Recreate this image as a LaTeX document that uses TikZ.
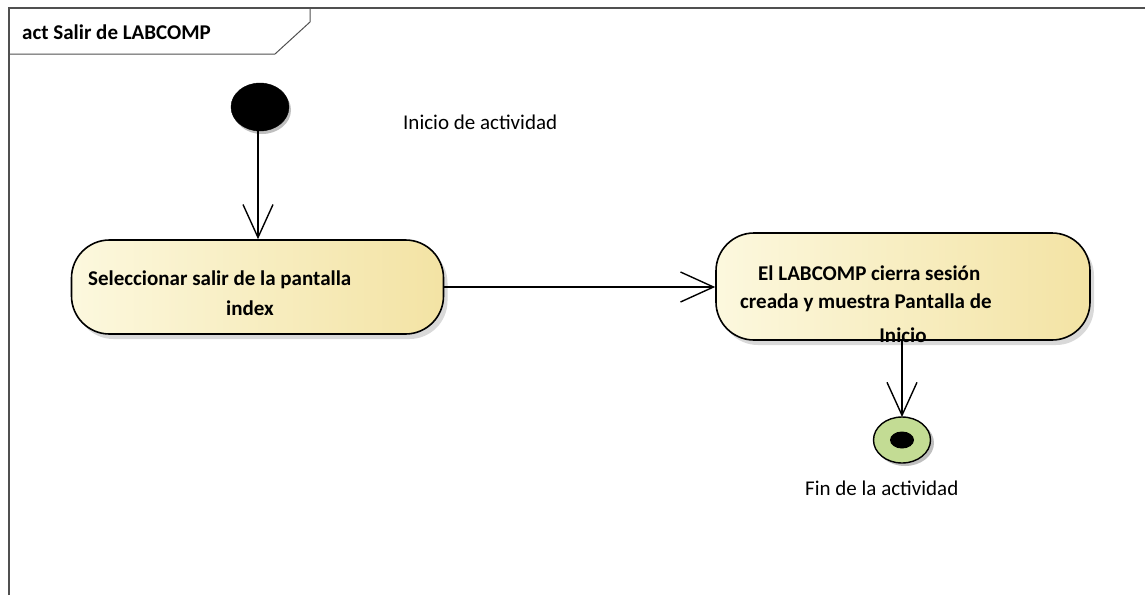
\documentclass[tikz,border=0pt]{standalone}
\usepackage{fontspec}
\setmainfont{Carlito}
\usetikzlibrary{arrows.meta,shadows,shapes.geometric}
\definecolor{actL}{HTML}{FCF8DE}
\definecolor{actR}{HTML}{F3E3A4}
\definecolor{finG}{HTML}{C3DC94}
\definecolor{frameC}{HTML}{505050}
\tikzset{
  actbox/.style={draw=black, line width=1.6pt, rounded corners=38pt, left color=actL, right color=actR,
     drop shadow={shadow xshift=4pt, shadow yshift=-5pt, fill=black!25, opacity=0.6}},
  flow/.style={line width=1.4pt, -{Straight Barb[length=33pt, width=30pt, line width=1.4pt]}},
  lbl/.style={font=\fontsize{21}{24}\selectfont, anchor=west, inner sep=0pt},
  btxt/.style={font=\fontsize{21}{24}\selectfont\bfseries, anchor=west, inner sep=0pt},
}
\begin{document}
\begin{tikzpicture}[x=1pt,y=-1pt]
\useasboundingbox (0,0) rectangle (1145,595);
% frame
\draw[frameC, line width=1.2pt] (9,595) -- (9,8) -- (1145,8);
\draw[frameC, line width=1pt] (9,54) -- (275,54) -- (310,22) -- (310,8);
\node[btxt] (title) at (22,32) {act Salir de LABCOMP};
% initial
\fill[black!25] (262,110) ellipse [x radius=29, y radius=24];
\node[ellipse, draw, fill=black, minimum width=58pt, minimum height=48pt, inner sep=0pt] (start) at (260,107) {};
\node[lbl] (startlbl) at (403,122) {Inicio de actividad};
% activities
\node[actbox, minimum width=372pt, minimum height=94pt, inner sep=0pt] (a1) at (257.5,287) {};
\node[btxt] (a1t1) at (88,280) {Seleccionar salir de la pantalla};
\node[btxt, anchor=center] (a1t2) at (250,308) {index};
\node[actbox, minimum width=374pt, minimum height=107pt, inner sep=0pt] (a2) at (903,286.5) {};
\node[btxt] (a2t1) at (758,273) {El LABCOMP cierra sesión};
\node[btxt] (a2t2) at (740,303) {creada y muestra Pantalla de};
\node[btxt, anchor=center] (a2t3) at (903,335) {Inicio};
% final
\coordinate (fc) at (902,440);
\fill[black!25] (905,443) ellipse [x radius=29, y radius=23];
\draw[line width=1.4pt, fill=finG] (fc) ellipse [x radius=28.5, y radius=23];
\fill[black] (fc) ellipse [x radius=12, y radius=8.5];
\coordinate (fin) at (902,417);
\node[lbl] (finlbl) at (805,488) {Fin de la actividad};
% flows
\draw[flow] (start.south -| 258,0) -- (a1.north -| 258,0);
\draw[flow] (a1.east |- 0,287) -- (a2.west |- 0,287);
\draw[flow] (a2.south -| fin) -- (fin);
\end{tikzpicture}
\end{document}
